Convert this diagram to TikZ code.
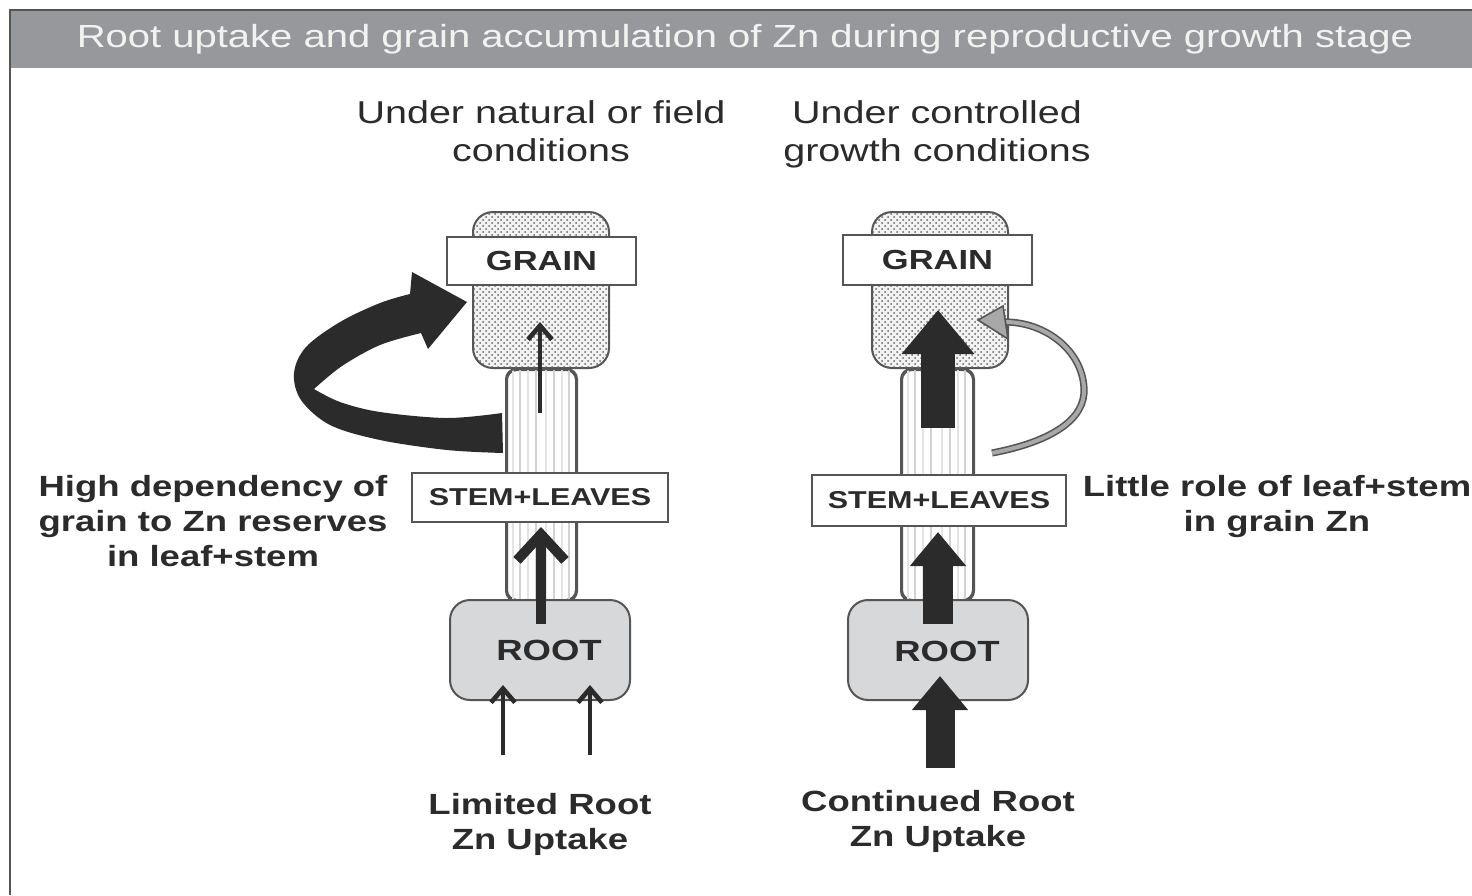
\documentclass[tikz,border=0pt]{standalone}
\usepackage{fontspec}
\setmainfont{Liberation Sans}[FakeStretch=1.25]
\usetikzlibrary{arrows.meta,patterns}
\definecolor{ink}{HTML}{2B2B2B}
\definecolor{hdr}{HTML}{97989B}
\definecolor{edge}{HTML}{555555}
\definecolor{rootfill}{HTML}{D7D8DA}
\definecolor{grainfill}{HTML}{F2F2F2}
\definecolor{stripeA}{HTML}{D2D2D2}
\definecolor{stripeB}{HTML}{E4E4E4}
\definecolor{lgray}{HTML}{A8A8A8}
\definecolor{titletext}{HTML}{F2F2F2}
\tikzset{
  grainshape/.style={draw=edge, line width=1pt, fill=grainfill, rounded corners=10pt,
    postaction={pattern=crosshatch dots, pattern color=black!60}, inner sep=0},
  stemshape/.style={draw=edge, line width=1pt, fill=white, rounded corners=5pt, inner sep=0},
  rootshape/.style={draw=edge, line width=1pt, fill=rootfill, rounded corners=10pt, inner sep=0},
  labelbox/.style={draw=edge, line width=1pt, fill=white, inner sep=0},
  boxtext/.style={font=\bfseries\fontsize{13.8}{16}\selectfont, text=ink},
  stemtext/.style={font=\bfseries\fontsize{12.2}{14}\selectfont, text=ink},
  roottext/.style={font=\bfseries\fontsize{14.6}{17}\selectfont, text=ink, inner sep=0},
  lbl/.style={font=\bfseries\fontsize{14.6}{17.5}\selectfont, text=ink, align=center, inner sep=0},
  sub/.style={font=\fontsize{15.8}{19}\selectfont, text=ink, align=center, inner sep=0},
  thinarrow/.style={draw=ink, line width=2pt, -{Straight Barb[length=7pt,width=12pt,line width=2.3pt]}},
  midarrow/.style={draw=ink, line width=5pt, -{Straight Barb[length=13pt,width=24pt]}},
}
\begin{document}
\begin{tikzpicture}[x=0.5pt,y=-0.5pt]
\useasboundingbox (0,0) rectangle (1472,895);
% header and frame
\fill[hdr] (10,10) rectangle (1472,68);
\draw[edge, line width=1pt] (1472,10) -- (10,10) -- (10,895);
\node[font=\fontsize{16}{19}\selectfont, text=titletext, inner sep=0] (title) at (745,39)
  {Root uptake and grain accumulation of Zn during reproductive growth stage};
% subtitles
\node[sub] (subL) at (541,131) {Under natural or field\\conditions};
\node[sub] (subR) at (937,134) {Under controlled\\growth conditions};

% ---------------- left column ----------------
\fill[ink] plot[smooth, tension=0.55] coordinates {(503,453) (447,450) (380,440) (330,425) (301,400) (294,373) (306,347) (340,322) (380,303) (410,294)}
  -- (412,272) -- (467,302) -- (428,349) -- (421,333)
  -- plot[smooth, tension=0.55] coordinates {(421,333) (380,345) (342,366) (314,389)}
  -- plot[smooth, tension=0.55] coordinates {(314,389) (340,402) (380,412) (447,418) (502,413)} -- cycle;

\node[grainshape, minimum width=68pt, minimum height=78pt] (grainL) at (541,290) {};
\node[labelbox, minimum width=94.5pt, minimum height=24pt] (grainboxL) at (541.5,261) {};
\node[boxtext] (grainLtxt) at (541.5,261) {GRAIN};

\node[stemshape, minimum width=34.5pt, minimum height=115pt] (stemL) at (541.5,485) {};
\begin{scope}
  \clip[rounded corners=5pt] (stemL.south west) rectangle (stemL.north east);
  \foreach \dx/\c in {7/stripeB,14/stripeA,22/stripeB,30/stripeA,40/stripeB,48/stripeA,56/stripeB,63/stripeA}
    \draw[\c, line width=1.3pt] ([xshift=\dx*0.5pt]stemL.south west) -- ([xshift=\dx*0.5pt]stemL.north west);
\end{scope}
\draw[edge, line width=1pt, rounded corners=5pt] (stemL.south west) rectangle (stemL.north east);
\node[labelbox, minimum width=128pt, minimum height=24.5pt] (stemboxL) at (540,497.5) {};
\node[stemtext] (stemLtxt) at (540,497.5) {STEM+LEAVES};

\node[rootshape, minimum width=90pt, minimum height=50pt] (rootL) at (540,650) {};
\node[roottext] (rootLtxt) at (549,650) {ROOT};

\coordinate (aL1s) at (540,413); \coordinate (aL1e) at (540,322);
\coordinate (aL2s) at (541,624); \coordinate (aL2e) at (541,527);
\coordinate (aL3s) at (503,755); \coordinate (aL3e) at (503,685);
\coordinate (aL4s) at (590,755); \coordinate (aL4e) at (590,685);
\draw[thinarrow] (aL1s) -- (aL1e);
\draw[midarrow] (aL2s) -- (aL2e);
\draw[thinarrow] (aL3s) -- (aL3e);
\draw[thinarrow] (aL4s) -- (aL4e);

% ---------------- right column ----------------
\node[grainshape, minimum width=68pt, minimum height=78pt] (grainR) at (940,290) {};
\node[labelbox, minimum width=94.5pt, minimum height=25pt] (grainboxR) at (937.5,260) {};
\node[boxtext] (grainRtxt) at (937.5,260) {GRAIN};

\node[stemshape, minimum width=35.5pt, minimum height=115pt] (stemR) at (937.5,485) {};
\begin{scope}
  \clip[rounded corners=5pt] (stemR.south west) rectangle (stemR.north east);
  \foreach \dx/\c in {7/stripeB,14/stripeA,22/stripeB,30/stripeA,41/stripeB,49/stripeA,57/stripeB,64/stripeA}
    \draw[\c, line width=1.3pt] ([xshift=\dx*0.5pt]stemR.south west) -- ([xshift=\dx*0.5pt]stemR.north west);
\end{scope}
\draw[edge, line width=1pt, rounded corners=5pt] (stemR.south west) rectangle (stemR.north east);
\node[labelbox, minimum width=127pt, minimum height=25.5pt] (stemboxR) at (939,500.5) {};
\node[stemtext] (stemRtxt) at (939,500.5) {STEM+LEAVES};

\node[rootshape, minimum width=90pt, minimum height=50pt] (rootR) at (938,650) {};
\node[roottext] (rootRtxt) at (947,651) {ROOT};

\coordinate (aR1s) at (938,428); \coordinate (aR1e) at (938,310);
\coordinate (aR2s) at (938,624); \coordinate (aR2e) at (938,532);
\coordinate (aR3s) at (940,768); \coordinate (aR3e) at (940,676);
\draw[ink, line width=17pt, -{Triangle[length=22pt,width=35pt]}] (aR1s) -- (aR1e);
\draw[ink, line width=15pt, -{Triangle[length=17pt,width=27pt]}] (aR2s) -- (aR2e);
\draw[ink, line width=14.5pt, -{Triangle[length=17pt,width=27pt]}] (aR3s) -- (aR3e);

% gray curved arrow
\coordinate (gS) at (992,453);
\coordinate (gE) at (1005,322);
\draw[edge, line width=3.6pt] (gS) .. controls (1050,442) and (1086,420) .. (1084,388) .. controls (1082,350) and (1045,322) .. (gE);
\draw[lgray, line width=2pt] (gS) .. controls (1050,442) and (1086,420) .. (1084,388) .. controls (1082,350) and (1045,322) .. (gE);
\filldraw[fill=lgray, draw=edge, line width=0.8pt, line join=miter] (978,320) -- (1003,306) -- (1008,339) -- cycle;

% labels
\node[lbl] (lblL) at (213,521) {High dependency of\\grain to Zn reserves\\in leaf+stem};
\node[lbl] (lblR) at (1277,507) {Little role of leaf+stem\\in grain Zn};
\node[lbl] (botL) at (540,824) {Limited Root\\Zn Uptake};
\node[lbl] (botR) at (938,821) {Continued Root\\Zn Uptake};
\end{tikzpicture}
\end{document}
